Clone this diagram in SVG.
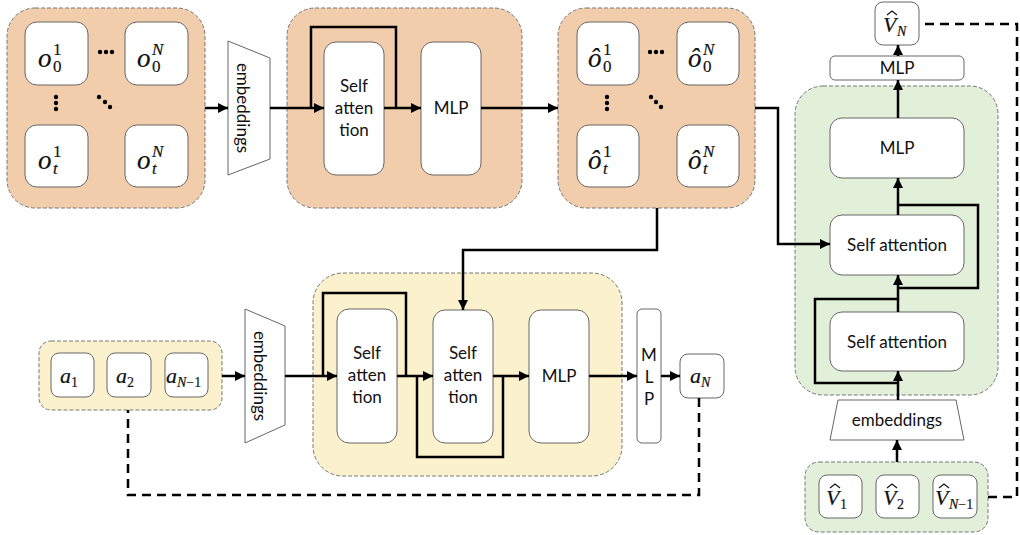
<svg xmlns="http://www.w3.org/2000/svg" width="1020" height="535" viewBox="0 0 1020 535">
<defs>
<marker id="ah" viewBox="0 0 10 10" refX="10" refY="5" markerWidth="4" markerHeight="4" orient="auto" markerUnits="strokeWidth">
<path d="M0,0 L10,5 L0,10 z" fill="#000"/>
</marker>
<style>
.org{fill:#F2CDAB;stroke:#777;stroke-width:1;stroke-dasharray:4 2}
.yel{fill:#FCF1CD;stroke:#777;stroke-width:1;stroke-dasharray:4 2}
.grn{fill:#E2EFD9;stroke:#777;stroke-width:1;stroke-dasharray:4 2}
.box{fill:#fff;stroke:#666;stroke-width:1}
.trap{fill:#fff;stroke:#666;stroke-width:1}
.lbl{font-family:Lato,"Liberation Sans",sans-serif;font-size:17px;fill:#111;text-anchor:middle}
.m{font-family:"Liberation Serif",serif;font-style:italic;fill:#111;stroke:#111;stroke-width:0.2}
.mb{font-family:"Liberation Serif",serif;fill:#111;stroke:#111;stroke-width:0.15}
.hat{fill:none;stroke:#111;stroke-width:1.2}
.ln{fill:none;stroke:#000;stroke-width:2.5}
.la{fill:none;stroke:#000;stroke-width:2.5;marker-end:url(#ah)}
.ds{fill:none;stroke:#000;stroke-width:2.5;stroke-dasharray:9 6}
.dot{fill:#000}
</style>
</defs>

<g id="obs-group">
<rect class="org" x="7" y="8" width="198" height="200" rx="28"/>
<rect class="box" x="25" y="22" width="63" height="63" rx="12"/>
<rect class="box" x="125" y="22" width="63" height="63" rx="12"/>
<rect class="box" x="25" y="125" width="63" height="62" rx="12"/>
<rect class="box" x="125" y="125" width="63" height="62" rx="12"/>
<text class="m" x="38" y="67" font-size="27">o</text><text class="mb" x="53" y="55" font-size="17">1</text><text class="mb" x="53" y="72" font-size="17">0</text>
<text class="m" x="137" y="67" font-size="27">o</text><text class="m" x="152" y="55" font-size="17">N</text><text class="mb" x="152" y="72" font-size="17">0</text>
<text class="m" x="38" y="169" font-size="27">o</text><text class="mb" x="53" y="157" font-size="17">1</text><text class="m" x="53" y="174" font-size="17">t</text>
<text class="m" x="137" y="169" font-size="27">o</text><text class="m" x="152" y="157" font-size="17">N</text><text class="m" x="152" y="174" font-size="17">t</text>
<circle class="dot" cx="100" cy="52" r="2.2"/><circle class="dot" cx="106" cy="52" r="2.2"/><circle class="dot" cx="112" cy="52" r="2.2"/>
<circle class="dot" cx="56" cy="97" r="2.2"/><circle class="dot" cx="56" cy="103" r="2.2"/><circle class="dot" cx="56" cy="109" r="2.2"/>
<circle class="dot" cx="99" cy="97" r="2.2"/><circle class="dot" cx="105" cy="102" r="2.2"/><circle class="dot" cx="110" cy="107" r="2.2"/>
</g>

<g id="emb-top">
<polygon class="trap" points="228,41 270,58 270,159 228,175"/>
<text class="lbl" transform="translate(243,108) rotate(90)" y="6">embeddings</text>
</g>

<g id="transformer-top">
<rect class="org" x="287" y="8" width="235" height="200" rx="28"/>
<rect class="box" x="324" y="42" width="60" height="133" rx="12"/>
<text class="lbl" x="354" y="92">Self</text><text class="lbl" x="354" y="114">atten</text><text class="lbl" x="354" y="136">tion</text>
<rect class="box" x="421" y="42" width="60" height="133" rx="12"/>
<text class="lbl" x="451" y="114">MLP</text>
</g>

<g id="obs-hat-group">
<rect class="org" x="558" y="8" width="197" height="200" rx="28"/>
<rect class="box" x="577" y="22" width="62" height="63" rx="12"/>
<rect class="box" x="677" y="22" width="62" height="63" rx="12"/>
<rect class="box" x="577" y="125" width="62" height="62" rx="12"/>
<rect class="box" x="677" y="125" width="62" height="62" rx="12"/>
<text class="m" x="588" y="67" font-size="27">ô</text><text class="mb" x="603" y="55" font-size="17">1</text><text class="mb" x="603" y="72" font-size="17">0</text>
<text class="m" x="688" y="67" font-size="27">ô</text><text class="m" x="703" y="55" font-size="17">N</text><text class="mb" x="703" y="72" font-size="17">0</text>
<text class="m" x="588" y="169" font-size="27">ô</text><text class="mb" x="603" y="157" font-size="17">1</text><text class="m" x="603" y="174" font-size="17">t</text>
<text class="m" x="688" y="169" font-size="27">ô</text><text class="m" x="703" y="157" font-size="17">N</text><text class="m" x="703" y="174" font-size="17">t</text>
<circle class="dot" cx="650" cy="52" r="2.2"/><circle class="dot" cx="656" cy="52" r="2.2"/><circle class="dot" cx="662" cy="52" r="2.2"/>
<circle class="dot" cx="607" cy="97" r="2.2"/><circle class="dot" cx="607" cy="103" r="2.2"/><circle class="dot" cx="607" cy="109" r="2.2"/>
<circle class="dot" cx="651" cy="97" r="2.2"/><circle class="dot" cx="656" cy="102" r="2.2"/><circle class="dot" cx="661" cy="107" r="2.2"/>
</g>

<g id="action-group">
<rect class="yel" x="39" y="341" width="183" height="69" rx="12"/>
<rect class="box" x="51" y="353" width="43" height="44" rx="8"/>
<rect class="box" x="107" y="353" width="44" height="44" rx="8"/>
<rect class="box" x="165" y="353" width="43" height="44" rx="8"/>
<text class="m" x="60" y="383" font-size="22">a</text><text class="mb" x="71" y="387" font-size="14">1</text>
<text class="m" x="116" y="383" font-size="22">a</text><text class="mb" x="127" y="387" font-size="14">2</text>
<text class="m" x="166" y="383" font-size="22">a</text><text class="m" x="177" y="387" font-size="14">N<tspan class="mb" font-style="normal">−1</tspan></text>
</g>

<g id="emb-bottom">
<polygon class="trap" points="245,309 285,326 285,425 245,443"/>
<text class="lbl" transform="translate(260,376) rotate(90)" y="6">embeddings</text>
</g>

<g id="transformer-bottom">
<rect class="yel" x="313" y="273" width="309" height="203" rx="30"/>
<rect class="box" x="337" y="309" width="60" height="134" rx="12"/>
<text class="lbl" x="367" y="359">Self</text><text class="lbl" x="367" y="381">atten</text><text class="lbl" x="367" y="403">tion</text>
<rect class="box" x="433" y="310" width="60" height="133" rx="12"/>
<text class="lbl" x="463" y="359">Self</text><text class="lbl" x="463" y="381">atten</text><text class="lbl" x="463" y="403">tion</text>
<rect class="box" x="529" y="310" width="60" height="133" rx="12"/>
<text class="lbl" x="559" y="382">MLP</text>
</g>

<g id="mlp-narrow">
<rect class="box" x="637" y="309" width="24" height="134" rx="5"/>
<text class="lbl" x="649" y="361">M</text><text class="lbl" x="649" y="383">L</text><text class="lbl" x="649" y="405">P</text>
</g>

<g id="aN">
<rect class="box" x="680" y="354" width="44" height="44" rx="8"/>
<text class="m" x="690" y="383" font-size="22">a</text><text class="m" x="701" y="387" font-size="14">N</text>
</g>

<g id="vN">
<rect class="box" x="875" y="2" width="44" height="43" rx="8"/>
<text class="m" x="883" y="32" font-size="22">V</text><polyline class="hat" points="887,15 892,11 897,15"/><text class="m" x="897" y="36" font-size="14">N</text>
</g>

<g id="mlp-top">
<rect class="box" x="830" y="56" width="134" height="24" rx="5"/>
<text class="lbl" x="897" y="74">MLP</text>
</g>

<g id="transformer-right">
<rect class="grn" x="795" y="86" width="203" height="309" rx="28"/>
<rect class="box" x="830" y="118" width="134" height="60" rx="12"/>
<text class="lbl" x="897" y="154">MLP</text>
<rect class="box" x="830" y="215" width="134" height="60" rx="12"/>
<text class="lbl" x="897" y="251">Self attention</text>
<rect class="box" x="830" y="312" width="134" height="59" rx="12"/>
<text class="lbl" x="897" y="348">Self attention</text>
</g>

<g id="emb-right">
<polygon class="trap" points="838,400 956,400 964,440 830,440"/>
<text class="lbl" x="897" y="426">embeddings</text>
</g>

<g id="value-group">
<rect class="grn" x="805" y="462" width="183" height="70" rx="14"/>
<rect class="box" x="819" y="475" width="43" height="43" rx="8"/>
<rect class="box" x="876" y="475" width="43" height="43" rx="8"/>
<rect class="box" x="933" y="475" width="44" height="43" rx="8"/>
<text class="m" x="826" y="505" font-size="22">V</text><polyline class="hat" points="830,488 835,484 840,488"/><text class="mb" x="840" y="509" font-size="14">1</text>
<text class="m" x="883" y="505" font-size="22">V</text><polyline class="hat" points="887,488 892,484 897,488"/><text class="mb" x="897" y="509" font-size="14">2</text>
<text class="m" x="935" y="505" font-size="22">V</text><polyline class="hat" points="939,488 944,484 949,488"/><text class="m" x="949" y="509" font-size="14">N<tspan class="mb" font-style="normal">−1</tspan></text>
</g>

<g id="connectors">
<line class="la" x1="205" y1="108" x2="228" y2="108"/>
<line class="la" x1="270" y1="108" x2="324" y2="108"/>
<polyline class="ln" points="311,108 311,27 396,27 396,108"/>
<line class="la" x1="384" y1="108" x2="421" y2="108"/>
<line class="la" x1="481" y1="108" x2="558" y2="108"/>
<polyline class="la" points="755,108 778,108 778,244 830,244"/>
<polyline class="la" points="657,208 657,250 463,250 463,310"/>

<line class="la" x1="222" y1="376" x2="245" y2="376"/>
<line class="la" x1="285" y1="376" x2="337" y2="376"/>
<polyline class="ln" points="323,376 323,293 406,293 406,376"/>
<line class="la" x1="397" y1="376" x2="433" y2="376"/>
<polyline class="ln" points="417,376 417,457 503,457 503,376"/>
<line class="la" x1="493" y1="376" x2="529" y2="376"/>
<line class="la" x1="589" y1="376" x2="637" y2="376"/>
<line class="la" x1="661" y1="376" x2="680" y2="376"/>

<line class="la" x1="898" y1="56" x2="898" y2="45"/>
<line class="la" x1="898" y1="118" x2="898" y2="80"/>
<line class="la" x1="898" y1="215" x2="898" y2="178"/>
<polyline class="ln" points="898,205 978,205 978,288 898,288"/>
<line class="la" x1="898" y1="312" x2="898" y2="275"/>
<polyline class="ln" points="898,299 815,299 815,383 898,383"/>
<line class="la" x1="898" y1="400" x2="898" y2="371"/>
<line class="la" x1="897" y1="462" x2="897" y2="440"/>

<polyline class="ds" points="988,497 1017,497 1017,24 919,24"/>
<polyline class="ds" points="699,398 699,495 128,495 128,410"/>
</g>
</svg>
